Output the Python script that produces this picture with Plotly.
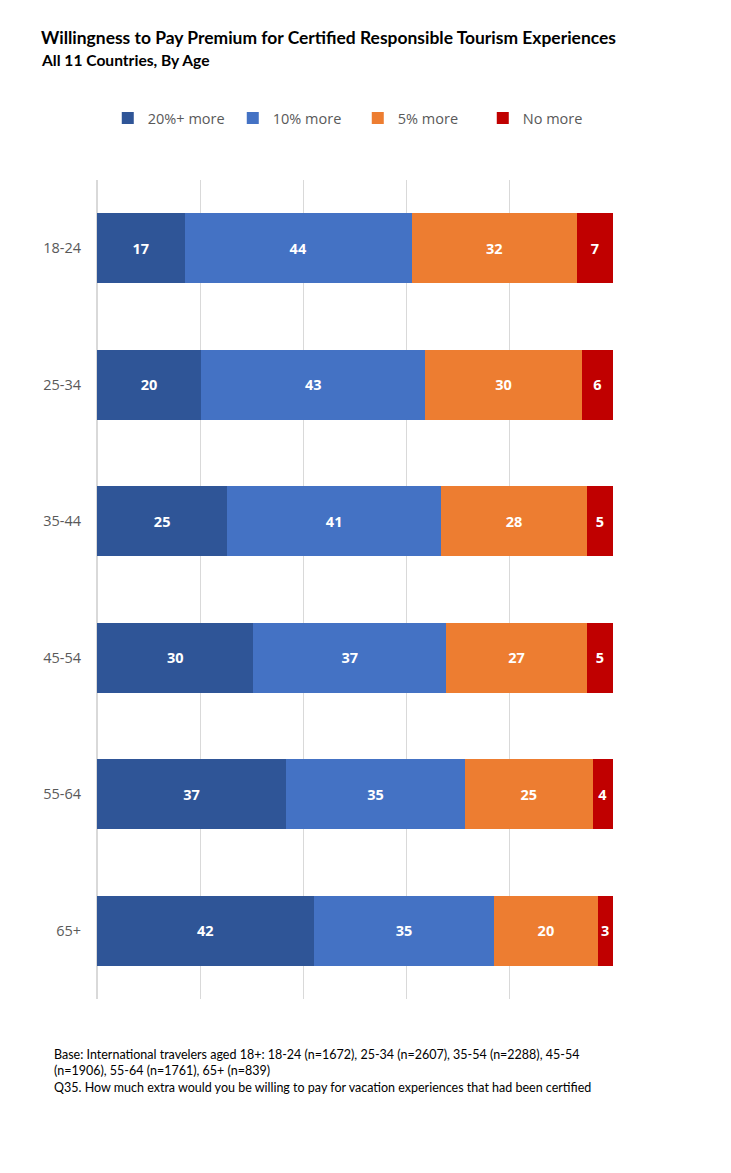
import plotly.graph_objects as go

ages = ["18-24", "25-34", "35-44", "45-54", "55-64", "65+"]
series_names = ["20%+ more", "10% more", "5% more", "No more"]
v20 = [17, 20, 25, 30, 37, 42]
v10 = [44, 43, 41, 37, 35, 35]
v5 = [32, 30, 28, 27, 25, 20]
vno = [7, 6, 5, 5, 4, 3]
colors = ["#2F5597", "#4472C4", "#ED7D31", "#C00000"]

title = "Willingness to Pay Premium for Certified Responsible Tourism Experiences"
subtitle = "All 11 Countries, By Age"
note = ("Base: International travelers aged 18+: 18-24 (n=1672), 25-34 (n=2607), 35-54 (n=2288), 45-54<br>"
        "(n=1906), 55-64 (n=1761), 65+ (n=839)<br>"
        "Q35. How much extra would you be willing to pay for vacation experiences that had been certified")

fig = go.Figure()
for name, vals, col in zip(series_names, [v20, v10, v5, vno], colors):
    fig.add_trace(go.Bar(
        y=ages, x=vals, name=name, orientation="h",
        marker=dict(color=col, line=dict(width=0)),
        text=[str(v) for v in vals], textposition="inside",
        insidetextanchor="middle",
        textfont=dict(color="white", size=14.5, family="Open Sans", weight="bold"),
        width=0.51,
    ))

fig.update_layout(
    barmode="stack", barnorm="percent",
    width=723, height=1165,
    paper_bgcolor="white", plot_bgcolor="white",
    margin=dict(l=89, r=118, t=172, b=174, autoexpand=False),
    font=dict(family="Open Sans", color="#595959"),
    showlegend=True,
    legend=dict(orientation="h", xref="container", x=0.138, xanchor="left",
                y=1.0757, yanchor="middle",
                font=dict(size=14.5, color="#595959"), traceorder="normal",
                entrywidth=80, entrywidthmode="pixels", itemwidth=30,
                itemsizing="constant"),
    annotations=[
        dict(text="<b>" + title + "</b>", xref="paper", yref="paper", x=-0.1124, y=1.1746,
             xanchor="left", yanchor="middle", showarrow=False,
             font=dict(size=17.45, color="black", family="Lato")),
        dict(text="<b>" + subtitle + "</b>", xref="paper", yref="paper", x=-0.1124, y=1.1465,
             xanchor="left", yanchor="middle", showarrow=False,
             font=dict(size=15.6, color="black", family="Lato")),
        dict(text=note, xref="paper", yref="paper", x=-0.0872, y=-0.0562,
             xanchor="left", yanchor="top", align="left", showarrow=False,
             font=dict(size=12.5, color="black", family="Lato")),
    ],
)
fig.update_xaxes(range=[0, 100], dtick=20, showticklabels=False, showgrid=True,
                 gridcolor="#D9D9D9", gridwidth=1, zeroline=True, zerolinecolor="#D9D9D9",
                 showline=False, fixedrange=True)
fig.update_yaxes(autorange="reversed", showgrid=False, ticks="", ticklabelstandoff=15,
                 tickfont=dict(size=14.5, color="#595959"), showline=False, automargin=False)

fig.write_html("out.html")
